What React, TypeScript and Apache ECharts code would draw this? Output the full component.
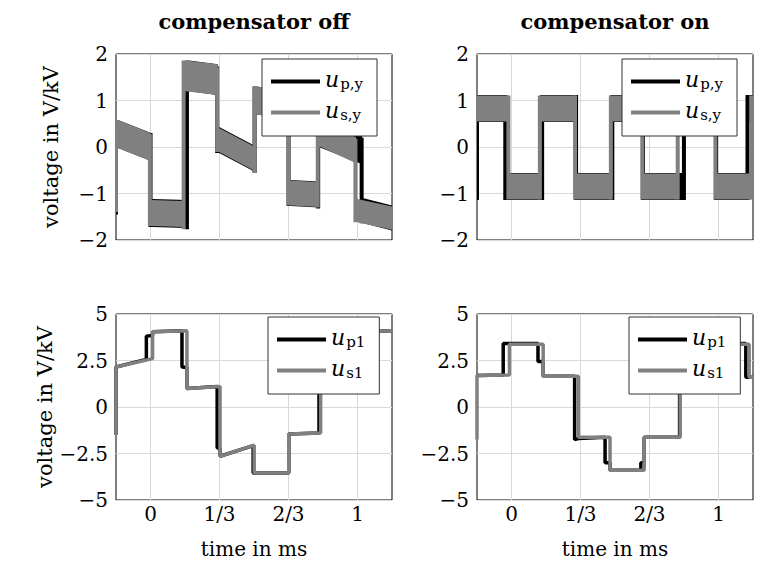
import React, { useEffect, useRef } from 'react';
import * as echarts from 'echarts';

// ---------- axes ----------
const xMin = -1 / 6;
const xMax = 7 / 6;
const xTicks = [0, 1 / 3, 2 / 3, 1];
const xTickLabels = ['0', '1/3', '2/3', '1'];
const titles = ['compensator off', 'compensator on'];

// ---------- top panels: noisy square-ish signals (segments between switching instants) ----------
// compensator off, u_p,y
const upyOffT = [-0.1667, 0.0, 0.176, 0.322, 0.503, 0.667, 0.81, 1.02, 1.1667];
const upyOffStart = [0.28, -1.42, 1.53, 0.15, 1.0, -0.99, 0.29, -1.37];
const upyOffEnd = [0.0, -1.44, 1.45, -0.26, 0.9, -1.02, -0.07, -1.53];
const upyOffHalf = [0.3, 0.3, 0.33, 0.28, 0.3, 0.28, 0.3, 0.27];
const upyOffPrev = -1.15;
// compensator off, u_s,y
const usyOffT = [-0.1667, -0.003, 0.16, 0.322, 0.503, 0.667, 0.808, 0.99, 1.1667];
const usyOffStart = [0.28, -1.42, 1.53, 0.15, 1.0, -0.99, 0.29, -1.37];
const usyOffEnd = [0.0, -1.44, 1.45, -0.26, 0.9, -1.02, -0.07, -1.53];
const usyOffHalf = [0.3, 0.28, 0.33, 0.26, 0.3, 0.27, 0.28, 0.25];
const usyOffPrev = -1.1;
// compensator on, u_p,y
const upyOnT = [-0.1667, -0.03, 0.148, 0.312, 0.487, 0.635, 0.833, 0.988, 1.14, 1.1667];
const upyOnLevel = [0.83, -0.85, 0.83, -0.85, 0.83, -0.85, 0.83, -0.85, 0.83];
const upyOnHalf = [0.29, 0.29, 0.29, 0.29, 0.29, 0.29, 0.29, 0.29, 0.29];
const upyOnPrev = -0.85;
// compensator on, u_s,y
const usyOnT = [-0.1667, -0.015, 0.137, 0.307, 0.48, 0.632, 0.803, 0.985, 1.158, 1.1667];
const usyOnLevel = [0.83, -0.85, 0.83, -0.85, 0.83, -0.85, 0.83, -0.85, 0.83];
const usyOnHalf = [0.28, 0.28, 0.28, 0.28, 0.28, 0.28, 0.28, 0.28, 0.28];
const usyOnPrev = 0.83;

// ---------- bottom panels: fundamental-frequency (stepped) voltages ----------
const up1OffT = [-0.1667, -0.1667, -0.02, -0.02, 0.01, 0.01, 0.152, 0.152, 0.176, 0.176, 0.322, 0.322, 0.336, 0.336, 0.496, 0.496, 0.668, 0.668, 0.814, 0.814, 0.98, 0.98, 1.01, 1.01, 1.1667];
const up1OffV = [-1.5, 2.15, 2.56, 3.8, 3.85, 4.05, 4.1, 2.15, 2.12, 1.0, 1.1, -2.2, -2.2, -2.65, -2.08, -3.55, -3.55, -1.45, -1.4, 2.15, 2.57, 3.8, 3.85, 4.05, 4.1];
const us1OffT = [-0.1667, -0.1667, 0.01, 0.01, 0.176, 0.176, 0.336, 0.336, 0.501, 0.501, 0.668, 0.668, 0.822, 0.822, 1.01, 1.01, 1.1667];
const us1OffV = [-1.5, 2.15, 2.6, 4.05, 4.1, 1.0, 1.1, -2.65, -2.05, -3.55, -3.55, -1.45, -1.4, 2.15, 2.6, 4.05, 4.1];

const up1OnT = [-0.1667, -0.04, -0.04, 0.128, 0.128, 0.153, 0.153, 0.305, 0.305, 0.323, 0.452, 0.452, 0.476, 0.476, 0.625, 0.625, 0.641, 0.641, 0.812, 0.812, 0.965, 0.965, 1.132, 1.132, 1.1667];
const up1OnV = [1.7, 1.72, 3.42, 3.42, 2.45, 2.45, 1.65, 1.65, -1.75, -1.7, -1.62, -3.0, -3.0, -3.4, -3.4, -3.0, -3.0, -1.62, -1.62, 1.65, 1.65, 3.42, 3.42, 1.6, 1.6];
const us1OnT = [-0.1667, -0.1667, -0.01, -0.01, 0.153, 0.153, 0.323, 0.323, 0.476, 0.476, 0.641, 0.641, 0.815, 0.815, 0.99, 0.99, 1.148, 1.148, 1.1667];
const us1OnV = [-1.75, 1.7, 1.72, 3.38, 3.38, 1.65, 1.65, -1.62, -1.62, -3.4, -3.4, -1.62, -1.62, 1.65, 1.65, 3.38, 3.38, 1.6, 1.6];

// ---------- styling ----------
const FONT = 'DejaVu Serif';
const BLACK = '#000000';
const GRAY = '#808080';
const GRID_LINE = '#d9d9d9';

const gridBoxes = [
  { left: 116, top: 54, width: 276, height: 186 },
  { left: 477, top: 54, width: 276, height: 186 },
  { left: 116, top: 314, width: 276, height: 186 },
  { left: 477, top: 314, width: 276, height: 186 },
];

const subOf: Record<string, string> = {
  'u_p,y': 'p,y',
  'u_s,y': 's,y',
  u_p1: 'p1',
  u_s1: 's1',
};

function bandData(t: number[], vs: number[], ve: number[], half: number[], prev0: number) {
  const out: number[][] = [];
  for (let i = 0; i < t.length - 1; i++) {
    out.push([t[i], t[i + 1], vs[i], ve[i], i === 0 ? prev0 : ve[i - 1], half[i]]);
  }
  return out;
}

function renderBand(params: any, api: any) {
  const t0 = api.value(0);
  const t1 = api.value(1);
  const v0 = api.value(2);
  const v1 = api.value(3);
  const vp = api.value(4);
  const h = api.value(5);
  const a = api.coord([t0, v0 + h]);
  const b = api.coord([t1, v1 + h]);
  const c = api.coord([t1, v1 - h]);
  const d = api.coord([t0, v0 - h]);
  const hi = api.coord([t0, Math.max(vp, v0) + h]);
  const lo = api.coord([t0, Math.min(vp, v0) - h]);
  const color = api.visual('color');
  // one outline: transition edge at t0 followed by the plateau quad
  const pts = [
    [a[0] - 2, hi[1]],
    [a[0] + 2, hi[1]],
    [a[0] + 2, a[1]],
    [b[0] + 0.6, b[1]],
    [c[0] + 0.6, c[1]],
    [a[0] + 2, d[1]],
    [a[0] + 2, lo[1]],
    [a[0] - 2, lo[1]],
  ];
  return {
    type: 'polygon',
    shape: { points: pts },
    style: { fill: color, stroke: 'none', lineWidth: 0, opacity: 1 },
  };
}

function bandSeries(name: string, color: string, idx: number, data: number[][], z: number) {
  return {
    type: 'custom',
    name,
    xAxisIndex: idx,
    yAxisIndex: idx,
    coordinateSystem: 'cartesian2d',
    renderItem: renderBand,
    itemStyle: { color, opacity: 1 },
    encode: { x: [0, 1], y: [2, 3] },
    data,
    clip: true,
    silent: true,
    z,
  };
}

function lineSeries(name: string, color: string, idx: number, t: number[], v: number[], z: number) {
  return {
    type: 'line',
    name,
    xAxisIndex: idx,
    yAxisIndex: idx,
    data: t.map((x, i) => [x, v[i]]),
    showSymbol: false,
    symbol: 'none',
    lineStyle: { color, width: 3.5 },
    itemStyle: { color },
    clip: true,
    silent: true,
    z,
  };
}

function fmtX(v: number) {
  const i = xTicks.findIndex((t) => Math.abs(t - v) < 1e-6);
  return i >= 0 ? xTickLabels[i] : '';
}
function fmtY(v: number) {
  if (Math.abs(v) < 1e-9) return '0';
  return v < 0 ? '\u2212' + String(Math.abs(v)) : String(v);
}

function legendFor(left: number, top: number, names: string[]) {
  return {
    orient: 'vertical',
    left,
    top,
    z: 10,
    data: names.map((n) => ({ name: n, icon: 'rect' })),
    itemWidth: 49,
    itemHeight: 4,
    itemGap: 4,
    padding: [9, 14, 10, 9],
    borderColor: '#333',
    borderWidth: 1,
    borderRadius: 0,
    backgroundColor: '#ffffff',
    selectedMode: false,
    formatter: (n: string) => `{u|u}{s|${subOf[n]}}`,
    textStyle: {
      color: '#000',
      fontFamily: FONT,
      rich: {
        u: { fontFamily: FONT, fontStyle: 'italic', fontSize: 22, lineHeight: 18, padding: [0, 1, 5, 0], color: '#000' },
        s: { fontFamily: FONT, fontSize: 15, lineHeight: 18, padding: [4, 0, 0, 0], color: '#000' },
      },
    },
  };
}

const option: any = {
  animation: false,
  backgroundColor: '#ffffff',
  textStyle: { fontFamily: FONT },
  graphic: titles.map((t, i) => ({
    type: 'text',
    x: gridBoxes[i].left + gridBoxes[i].width / 2,
    y: 21,
    style: {
      text: t,
      fontFamily: FONT,
      fontSize: 21,
      fontWeight: 'bold',
      fill: '#000',
      textAlign: 'center',
      textVerticalAlign: 'middle',
      align: 'center',
      verticalAlign: 'middle',
    },
  })),
  grid: gridBoxes.map((g) => ({
    ...g,
    show: true,
    borderColor: '#000',
    borderWidth: 1,
    backgroundColor: 'transparent',
    containLabel: false,
  })),
  xAxis: gridBoxes.map((_, i) => ({
    type: 'value',
    gridIndex: i,
    min: xMin,
    max: xMax,
    axisLine: { show: false },
    axisTick: { show: false, customValues: xTicks },
    axisLabel: {
      show: i >= 2,
      customValues: xTicks,
      formatter: fmtX,
      fontFamily: FONT,
      fontSize: 20,
      color: '#000',
      margin: 4,
    },
    splitLine: { show: true, lineStyle: { color: GRID_LINE, width: 1 } },
    name: i >= 2 ? 'time in ms' : '',
    nameLocation: 'middle',
    nameGap: 39,
    nameTextStyle: { fontFamily: FONT, fontSize: 20, color: '#000' },
  })),
  yAxis: gridBoxes.map((_, i) => ({
    type: 'value',
    gridIndex: i,
    min: i < 2 ? -2 : -5,
    max: i < 2 ? 2 : 5,
    interval: i < 2 ? 1 : 2.5,
    axisLine: { show: false },
    axisTick: { show: false },
    axisLabel: {
      formatter: fmtY,
      fontFamily: FONT,
      fontSize: 20,
      color: '#000',
      margin: 8,
    },
    splitLine: { show: true, lineStyle: { color: GRID_LINE, width: 1 } },
    name: i % 2 === 0 ? 'voltage in V/kV' : '',
    nameLocation: 'middle',
    nameRotate: 90,
    nameGap: 55,
    nameTextStyle: { fontFamily: FONT, fontSize: 21, color: '#000' },
  })),
  legend: [
    legendFor(262, 59, ['u_p,y', 'u_s,y']),
    legendFor(622, 59, ['u_p,y', 'u_s,y']),
    legendFor(268, 317, ['u_p1', 'u_s1']),
    legendFor(629, 317, ['u_p1', 'u_s1']),
  ],
  series: [
    bandSeries('u_p,y', BLACK, 0, bandData(upyOffT, upyOffStart, upyOffEnd, upyOffHalf, upyOffPrev), 2),
    bandSeries('u_s,y', GRAY, 0, bandData(usyOffT, usyOffStart, usyOffEnd, usyOffHalf, usyOffPrev), 3),
    bandSeries('u_p,y', BLACK, 1, bandData(upyOnT, upyOnLevel, upyOnLevel, upyOnHalf, upyOnPrev), 2),
    bandSeries('u_s,y', GRAY, 1, bandData(usyOnT, usyOnLevel, usyOnLevel, usyOnHalf, usyOnPrev), 3),
    lineSeries('u_p1', BLACK, 2, up1OffT, up1OffV, 2),
    lineSeries('u_s1', GRAY, 2, us1OffT, us1OffV, 3),
    lineSeries('u_p1', BLACK, 3, up1OnT, up1OnV, 2),
    lineSeries('u_s1', GRAY, 3, us1OnT, us1OnV, 3),
  ],
};

export default function App() {
  const ref = useRef<HTMLDivElement>(null);
  useEffect(() => {
    const chart = echarts.init(ref.current as HTMLDivElement, null, { renderer: 'svg' });
    chart.setOption(option);
    return () => chart.dispose();
  }, []);
  return (
    <div
      ref={ref}
      style={{ position: 'fixed', left: 0, top: 0, width: 759, height: 565, background: '#fff' }}
    />
  );
}
